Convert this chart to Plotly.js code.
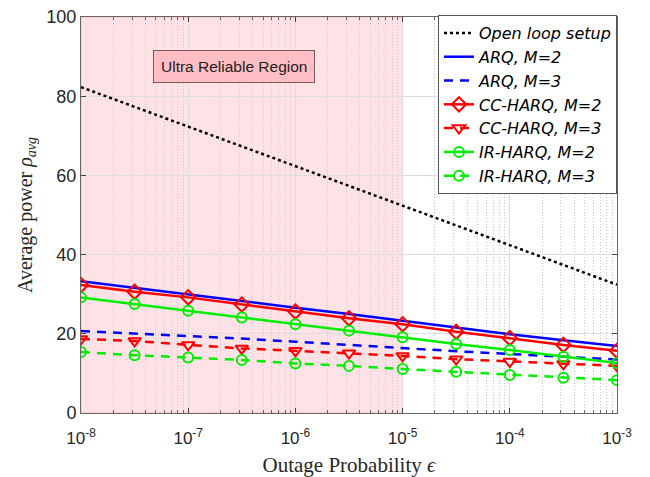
<!DOCTYPE html>
<html>
<head>
<meta charset="utf-8">
<script src="https://cdn.plot.ly/plotly-3.0.1.min.js"></script>
<style>html,body{margin:0;padding:0;background:#fff}#chart{width:650px;height:477px}</style>
</head>
<body>
<div id="chart"></div>
<script>
// Outage probability (x) — half-decade points
const eps = [1e-8, 3.1623e-8, 1e-7, 3.1623e-7, 1e-6, 3.1623e-6, 1e-5, 3.1623e-5, 1e-4, 3.1623e-4, 1e-3];
const openLoop = [82.3, 77.3, 72.3, 67.3, 62.3, 57.3, 52.4, 47.3, 42.3, 37.4, 32.4];
const arqM2    = [33.3, 31.6, 30.0, 28.3, 26.6, 25.0, 23.3, 21.6, 19.9, 18.4, 16.9];
const arqM3    = [20.7, 20.1, 19.5, 18.8, 18.0, 17.2, 16.3, 15.6, 14.9, 14.2, 13.5];
const ccM2     = [32.3, 30.6, 29.2, 27.4, 25.6, 23.9, 22.4, 20.5, 18.9, 17.2, 15.7];
const ccM3     = [18.7, 18.2, 17.2, 16.3, 15.7, 15.1, 14.4, 13.6, 13.0, 12.4, 11.9];
const irM2     = [29.2, 27.5, 25.8, 24.1, 22.4, 20.8, 19.1, 17.4, 15.9, 14.2, 12.6];
const irM3     = [15.4, 14.6, 14.0, 13.4, 12.5, 11.9, 11.1, 10.4, 9.6, 8.9, 8.3];

const xTickVals = [1e-8, 1e-7, 1e-6, 1e-5, 1e-4, 1e-3];
const xTickText = ['10<sup>-8</sup>', '10<sup>-7</sup>', '10<sup>-6</sup>', '10<sup>-5</sup>', '10<sup>-4</sup>', '10<sup>-3</sup>'];
const yTickVals = [0, 20, 40, 60, 80, 100];
const xRange = [1e-8, 1e-3];
const regionBounds = [1e-8, 1e-5];
const regionLabel = 'Ultra Reliable Region';

const minorVals = [];
for (let d = -8; d < -3; d++) for (let k = 2; k <= 9; k++) minorVals.push(k * Math.pow(10, d));

const lx0 = Math.log10(xRange[0]), lx1 = Math.log10(xRange[1]);
const toPaper = v => (Math.log10(v) - lx0) / (lx1 - lx0);

const lw = 2.5;
const dashPat = '9px,7px';
const traces = [
  {x: eps, y: openLoop, name: '<i>Open loop setup</i>', mode: 'lines', line: {color: '#000', width: 2.5, dash: 'dot'}},
  {x: eps, y: arqM2, name: '<i>ARQ, M=2</i>', mode: 'lines', line: {color: '#0000ff', width: lw}},
  {x: eps, y: arqM3, name: '<i>ARQ, M=3</i>', mode: 'lines', line: {color: '#0000ff', width: lw, dash: dashPat}},
  {x: eps, y: ccM2, name: '<i>CC-HARQ, M=2</i>', mode: 'lines+markers', line: {color: '#ff0000', width: lw},
   marker: {symbol: 'diamond-open', size: 11, color: '#ff0000', line: {width: 2}}},
  {x: eps, y: ccM3, name: '<i>CC-HARQ, M=3</i>', mode: 'lines+markers', line: {color: '#ff0000', width: lw, dash: dashPat},
   marker: {symbol: 'triangle-down-open', size: 11, color: '#ff0000', line: {width: 2}}},
  {x: eps, y: irM2, name: '<i>IR-HARQ, M=2</i>', mode: 'lines+markers', line: {color: '#00ee00', width: lw},
   marker: {symbol: 'circle-open', size: 10, color: '#00ee00', line: {width: 2}}},
  {x: eps, y: irM3, name: '<i>IR-HARQ, M=3</i>', mode: 'lines+markers', line: {color: '#00ee00', width: lw, dash: dashPat},
   marker: {symbol: 'circle-open', size: 10, color: '#00ee00', line: {width: 2}}}
];

const layout = {
  width: 650, height: 477,
  margin: {l: 81, r: 33, t: 17, b: 64},
  paper_bgcolor: '#fff', plot_bgcolor: '#fff',
  font: {family: 'Liberation Sans, Arial, sans-serif', size: 17, color: '#262626'},
  showlegend: true,
  legend: {x: 1, xanchor: 'right', y: 1.005, yanchor: 'top', bgcolor: '#fff', bordercolor: '#555', borderwidth: 1,
           font: {family: 'DejaVu Sans, Liberation Sans, sans-serif', size: 16, color: '#000'}, tracegroupgap: 0, itemwidth: 30},
  xaxis: {
    type: 'log', range: [lx0, lx1], autorange: false,
    tickmode: 'array', tickvals: xTickVals, ticktext: xTickText,
    ticks: 'inside', ticklen: 5, tickcolor: '#444', ticklabelstandoff: 10,
    showgrid: true, gridcolor: '#dcdcdc', gridwidth: 1,
    minor: {tickmode: 'array', tickvals: minorVals, ticks: 'inside', ticklen: 3, tickcolor: '#666',
            showgrid: true, gridcolor: '#c8c8c8', griddash: '1px,2px', gridwidth: 1},
    showline: true, linecolor: '#666', linewidth: 1, mirror: 'ticks', zeroline: false,
    tickfont: {size: 17, color: '#262626'},
    title: {text: 'Outage Probability <i>ϵ</i>', font: {family: 'Liberation Serif, Times New Roman, serif', size: 21, color: '#262626'}, standoff: 11}
  },
  yaxis: {
    range: [0, 100], autorange: false, tickmode: 'array', tickvals: yTickVals,
    ticks: 'inside', ticklen: 5, tickcolor: '#444',
    showgrid: true, gridcolor: '#dcdcdc', gridwidth: 1,
    showline: true, linecolor: '#666', linewidth: 1, mirror: 'ticks', zeroline: false,
    tickfont: {size: 18, color: '#262626'},
    title: {text: 'Average power <i>ρ</i><sub><i>avg</i></sub>', font: {family: 'Liberation Serif, Times New Roman, serif', size: 20, color: '#262626'}, standoff: 8}
  },
  shapes: [{
    type: 'rect', xref: 'paper', yref: 'paper', layer: 'below',
    x0: toPaper(regionBounds[0]), x1: toPaper(regionBounds[1]), y0: 0, y1: 1,
    fillcolor: 'rgb(255,226,230)', line: {color: 'rgb(240,190,200)', width: 1}
  }],
  annotations: [{
    text: regionLabel, xref: 'paper', yref: 'paper', x: 0.285, y: 0.876, xanchor: 'center', yanchor: 'middle', showarrow: false,
    font: {family: 'Liberation Sans, Arial, sans-serif', size: 15.5, color: '#222'},
    bgcolor: 'rgb(255,190,195)', bordercolor: '#7a5a5a', borderwidth: 1, borderpad: 7
  }]
};

Plotly.newPlot('chart', traces, layout, {displayModeBar: false, staticPlot: true});
</script>
</body>
</html>
